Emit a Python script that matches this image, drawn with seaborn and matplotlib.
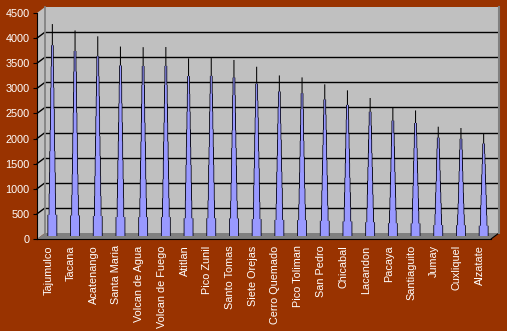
import matplotlib
matplotlib.use("Agg")
import matplotlib.pyplot as plt
import numpy as np
import pandas as pd
import seaborn as sns
from matplotlib.patches import Polygon
from matplotlib.lines import Line2D

volcanoes = ["Tajumulco", "Tacana", "Acatenango", "Santa Maria", "Volcan de Agua",
             "Volcan de Fuego", "Atitlan", "Pico Zunil", "Santo Tomas", "Siete Orejas",
             "Cerro Quemado", "Pico Toliman", "San Pedro", "Chicabal", "Lacandon",
             "Pacaya", "Santiaguito", "Jumay", "Cuxliquel", "Alzatate"]
elevation_m = [4220, 4093, 3976, 3772, 3760, 3763, 3537, 3542, 3505, 3370,
               3197, 3158, 3020, 2900, 2748, 2552, 2500, 2176, 2150, 2045]
y_ticks = [0, 500, 1000, 1500, 2000, 2500, 3000, 3500, 4000, 4500]

df = pd.DataFrame({"volcano": volcanoes, "elevation": elevation_m})

sns.set_theme(style="white")
plt.rcParams["font.family"] = ["Liberation Sans", "DejaVu Sans"]

W, H = 507, 331
BG = "#993300"
WALL = "#C0C0C0"
fig = plt.figure(figsize=(W / 100, H / 100), dpi=100, facecolor=BG)


def rect(l, t, r, b):
    return [l / W, 1 - b / H, (r - l) / W, (b - t) / H]


n = len(volcanoes)
YMAX = 4500

# background drawing axes in pixel coordinates
ax_bg = fig.add_axes([0, 0, 1, 1], zorder=0)
ax_bg.set_xlim(0, W)
ax_bg.set_ylim(H, 0)
ax_bg.axis("off")
ax_bg.patch.set_alpha(0)

# left wall
ax_bg.add_patch(Polygon([(37, 239), (37, 13), (45, 7), (45, 233)], closed=True,
                        facecolor=WALL, edgecolor="none"))
# floor
ax_bg.add_patch(Polygon([(37, 239), (491, 239), (499, 233), (45, 233)], closed=True,
                        facecolor="#808080", edgecolor="none"))
ax_bg.add_line(Line2D([491, 499], [239, 233], color="black", lw=0.8))
# slanted gridlines on left wall
scale = 226 / YMAX
for v in y_ticks[1:-1]:
    ax_bg.add_line(Line2D([37, 45], [239 - v * scale, 233 - v * scale], color="black", lw=1))

# back wall
ax_wall = fig.add_axes(rect(45, 7, 499, 233), zorder=1)
ax_wall.set_facecolor(WALL)
ax_wall.set_ylim(0, YMAX)
ax_wall.set_xlim(-0.5, n - 0.5)
ax_wall.set_xticks([])
ax_wall.set_yticks(y_ticks[1:-1])
ax_wall.tick_params(left=False, labelleft=False)
ax_wall.grid(axis="y", color="black", lw=1)
for s in ["top", "bottom"]:
    ax_wall.spines[s].set_visible(False)
ax_wall.spines["left"].set_color("#808080")
ax_wall.spines["right"].set_color("#808080")
ax_wall.spines["right"].set_linewidth(1.5)

# cones (mid depth)
ax_bars = fig.add_axes(rect(41, 10, 495, 236), zorder=2)
ax_bars.patch.set_alpha(0)
# black tip line
sns.barplot(data=df, x="volcano", y="elevation", ax=ax_bars, color="black",
            width=0.045, saturation=1, linewidth=0, errorbar=None)
# stepped cone: outline pass (black, slightly wider) then fill pass (blue)
fracs = [0.9, 0.8, 0.7, 0.6, 0.5, 0.4, 0.3, 0.2, 0.1]
widths = [0.05, 0.075, 0.10, 0.13, 0.16, 0.19, 0.22, 0.25, 0.36]
OUT = 0.07
for frac, w in zip(fracs, widths):
    sns.barplot(x=df["volcano"], y=df["elevation"] * frac, ax=ax_bars, color="#000010",
                width=w + OUT, saturation=1, linewidth=0, errorbar=None)
for frac, w in zip(fracs, widths):
    sns.barplot(x=df["volcano"], y=df["elevation"] * frac, ax=ax_bars, color="#9999FF",
                width=w, saturation=1, linewidth=0, errorbar=None)
for p in ax_bars.patches:
    p.set_snap(False)
    p.set_antialiased(True)
ax_bars.set_xlim(-0.5, n - 0.5)
ax_bars.set_ylim(0, YMAX)
ax_bars.axis("off")

# front axis (ticks & labels)
ax_front = fig.add_axes(rect(37, 13, 491, 239), zorder=3)
ax_front.patch.set_alpha(0)
ax_front.set_xlim(-0.5, n - 0.5)
ax_front.set_ylim(0, YMAX)
ax_front.set_yticks(y_ticks)
ax_front.set_yticklabels([str(v) for v in y_ticks], color="white", fontsize=7.8)
ax_front.set_xticks(range(n))
ax_front.set_xticklabels(volcanoes, rotation=90, color="white", fontsize=7.8, va="top", ha="center")
ax_front.set_xticks(np.arange(-0.5, n, 1.0), minor=True)
ax_front.tick_params(axis="x", which="major", length=0, pad=4.5)
ax_front.tick_params(axis="x", which="minor", length=3, width=0.8, color="black", direction="out")
ax_front.tick_params(axis="y", length=3, width=0.8, color="black", pad=2.2, direction="out", left=True)
ax_front.spines["top"].set_visible(False)
ax_front.spines["right"].set_visible(False)
ax_front.spines["left"].set_color("black")
ax_front.spines["bottom"].set_color("black")
ax_front.spines["left"].set_linewidth(0.8)
ax_front.spines["bottom"].set_linewidth(0.8)
ax_front.set_xlabel("")
ax_front.set_ylabel("")

fig.savefig("out.png", dpi=100, facecolor=BG)
